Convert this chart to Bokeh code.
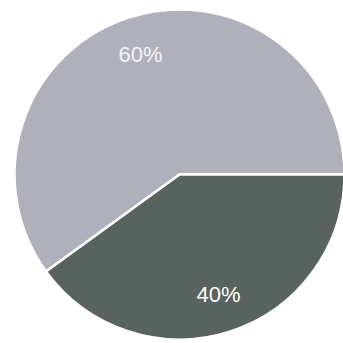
import math
from bokeh.plotting import figure
from bokeh.models import ColumnDataSource, Range1d
from bokeh.core.properties import value
from bokeh.embed import file_html
from bokeh.resources import INLINE

# data
labels = ["60%", "40%"]
shares = [60, 40]
colors = ["#b0b0bc", "#58625e"]
text_colors = ["#f4f4f6", "#ffffff"]

W = 343
cx, cy, R = 179, 169, 165
label_r = 126

total = sum(shares)
starts, ends = [], []
acc = 0.0
for s in shares:
    starts.append(2 * math.pi * acc / total)
    acc += s
    ends.append(2 * math.pi * acc / total)
mids = [(a + b) / 2 for a, b in zip(starts, ends)]

src = ColumnDataSource(dict(
    x=[cx] * len(shares), y=[cy] * len(shares),
    start=starts, end=ends, color=colors,
    tx=[cx + label_r * math.cos(m) for m in mids],
    ty=[cy + label_r * math.sin(m) for m in mids],
    label=labels, tcolor=text_colors,
))

p = figure(width=W, height=W, output_backend="svg", toolbar_location=None,
           x_range=Range1d(0, W), y_range=Range1d(0, W), min_border=0)
p.axis.visible = False
p.grid.visible = False
p.outline_line_color = None
p.background_fill_color = "white"
p.border_fill_color = "white"

p.wedge(x="x", y="y", radius=R, start_angle="start", end_angle="end",
        fill_color="color", line_color="white", line_width=2.5, source=src)
p.text(x="tx", y="ty", text="label", text_color="tcolor",
       text_font=value("Liberation Sans"), text_font_size="22px",
       text_align="center", text_baseline="middle", source=src)

open("out.html", "w").write(file_html(p, INLINE))
